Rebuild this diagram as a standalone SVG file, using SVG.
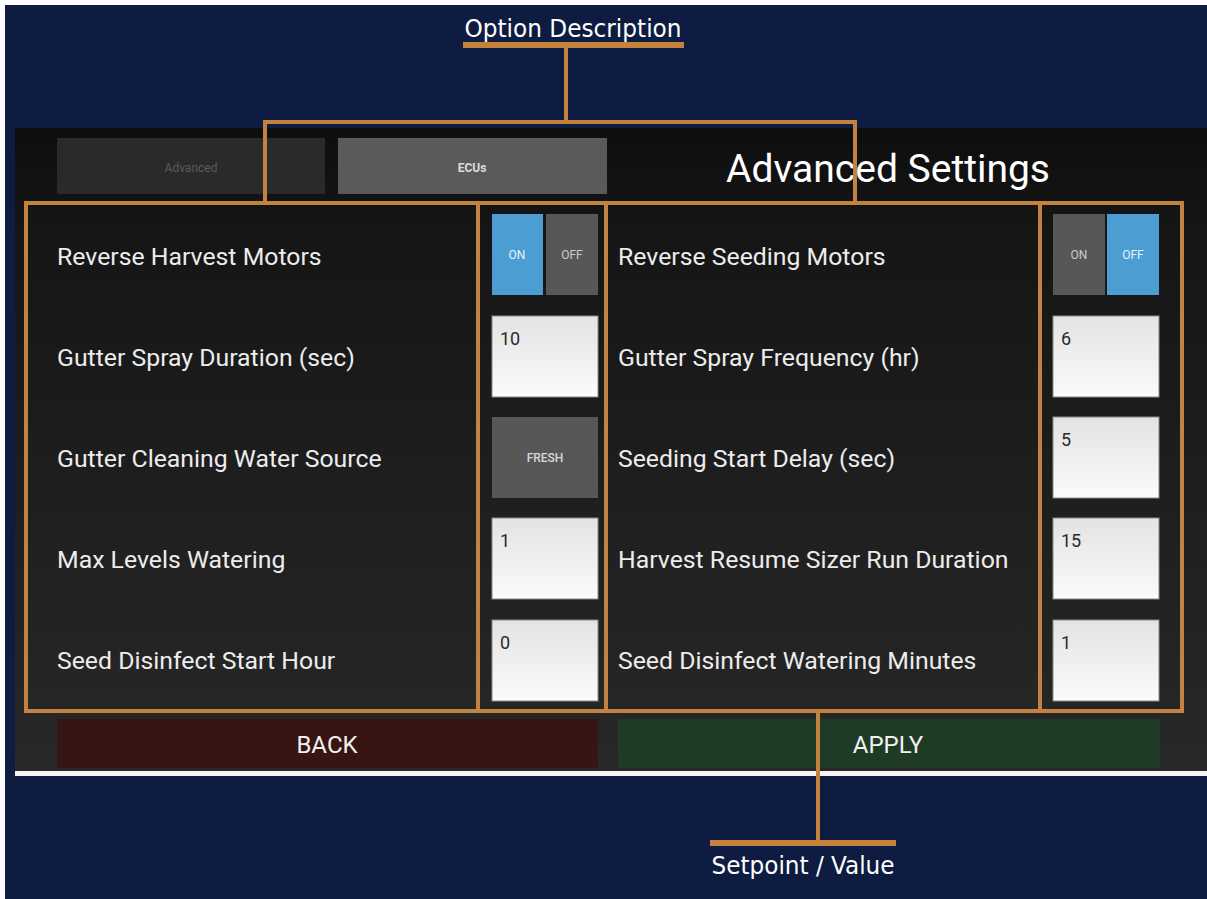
<svg xmlns="http://www.w3.org/2000/svg" width="1207" height="899" viewBox="0 0 1207 899">
<defs>
<linearGradient id="panelG" x1="0" y1="0" x2="0" y2="1">
<stop offset="0" stop-color="#0e0e0e"/>
<stop offset="0.15" stop-color="#151515"/>
<stop offset="1" stop-color="#282828"/>
</linearGradient>
<linearGradient id="fieldG" x1="0" y1="0" x2="0" y2="1">
<stop offset="0" stop-color="#e3e3e3"/>
<stop offset="1" stop-color="#fbfbfb"/>
</linearGradient>
<style>
.lbl{font-family:Roboto,"Liberation Sans",sans-serif;font-size:24.8px;fill:#ececec}
.val{font-family:Roboto,"Liberation Sans",sans-serif;font-size:18px;fill:#2a2a2a}
.tg{font-family:Roboto,"Liberation Sans",sans-serif;font-size:12px;text-anchor:middle}
.field{fill:url(#fieldG);stroke:#8a8a8a;stroke-width:1}
.on{fill:#4b9dd2}
.off{fill:#575757}
.ann{font-family:"DejaVu Sans Condensed","DejaVu Sans",sans-serif;font-size:24px;fill:#ffffff;text-anchor:middle}
.or{stroke:#c4823f;stroke-width:4;fill:none}
.bar{fill:#c4823f}
.btn{font-family:Roboto,"Liberation Sans",sans-serif;font-size:24px;fill:#f0f0f0;text-anchor:middle}
</style>
</defs>
<rect x="0" y="0" width="1207" height="899" fill="#ffffff"/>
<rect x="5" y="5" width="1202" height="894" fill="#0d1c40"/>

<g id="screen">
<rect x="15" y="128" width="1192" height="644" fill="url(#panelG)"/>
<rect x="15" y="771" width="1192" height="5" fill="#f4f4f4"/>
<g id="tab-advanced"><rect x="57" y="138" width="268" height="56" fill="#2a2a2a"/><text x="191" y="172" class="tg" fill="#5a5a5a" font-size="13">Advanced</text></g>
<g id="tab-ecus"><rect x="338" y="138" width="269" height="56" fill="#5a5a5a"/><text x="472" y="172" class="tg" fill="#dddddd" font-weight="bold" font-size="13">ECUs</text></g>
<text x="888" y="182" font-family="Roboto,'Liberation Sans',sans-serif" font-size="39" fill="#ffffff" text-anchor="middle">Advanced Settings</text>

<g id="row1l"><text x="57" y="265" class="lbl">Reverse Harvest Motors</text>
<rect x="492" y="214" width="51" height="81" class="on"/><text x="517" y="259" class="tg" fill="#e8f4fb">ON</text>
<rect x="546" y="214" width="52" height="81" class="off"/><text x="572" y="259" class="tg" fill="#cccccc">OFF</text></g>
<g id="row2l"><text x="57" y="366" class="lbl">Gutter Spray Duration (sec)</text>
<rect x="492" y="316" width="106" height="81" class="field"/><text x="500" y="345" class="val">10</text></g>
<g id="row3l"><text x="57" y="467" class="lbl">Gutter Cleaning Water Source</text>
<rect x="492" y="417" width="106" height="81" class="off"/><text x="545" y="462" class="tg" fill="#d8d8d8" font-weight="500">FRESH</text></g>
<g id="row4l"><text x="57" y="568" class="lbl">Max Levels Watering</text>
<rect x="492" y="518" width="106" height="81" class="field"/><text x="500" y="547" class="val">1</text></g>
<g id="row5l"><text x="57" y="669" class="lbl">Seed Disinfect Start Hour</text>
<rect x="492" y="620" width="106" height="81" class="field"/><text x="500" y="649" class="val">0</text></g>

<g id="row1r"><text x="618" y="265" class="lbl">Reverse Seeding Motors</text>
<rect x="1053" y="214" width="52" height="81" class="off"/><text x="1079" y="259" class="tg" fill="#cccccc">ON</text>
<rect x="1107" y="214" width="52" height="81" class="on"/><text x="1133" y="259" class="tg" fill="#e8f4fb">OFF</text></g>
<g id="row2r"><text x="618" y="366" class="lbl">Gutter Spray Frequency (hr)</text>
<rect x="1053" y="316" width="106" height="81" class="field"/><text x="1061" y="345" class="val">6</text></g>
<g id="row3r"><text x="618" y="467" class="lbl">Seeding Start Delay (sec)</text>
<rect x="1053" y="417" width="106" height="81" class="field"/><text x="1061" y="446" class="val">5</text></g>
<g id="row4r"><text x="618" y="568" class="lbl">Harvest Resume Sizer Run Duration</text>
<rect x="1053" y="518" width="106" height="81" class="field"/><text x="1061" y="547" class="val">15</text></g>
<g id="row5r"><text x="618" y="669" class="lbl">Seed Disinfect Watering Minutes</text>
<rect x="1053" y="620" width="106" height="81" class="field"/><text x="1061" y="649" class="val">1</text></g>

<g id="btn-back"><rect x="57" y="719" width="541" height="49" fill="#361513"/><text x="327" y="753" class="btn">BACK</text></g>
<g id="btn-apply"><rect x="618" y="719" width="542" height="49" fill="#1f3b26"/><text x="888" y="753" class="btn">APPLY</text></g>
</g>

<g id="connectors">
<rect x="26" y="203" width="1156" height="508" class="or"/>
<line x1="478" y1="203" x2="478" y2="711" class="or"/>
<line x1="606" y1="203" x2="606" y2="711" class="or"/>
<line x1="1040" y1="203" x2="1040" y2="711" class="or"/>
<polyline points="265,203 265,122 855,122 855,203" class="or"/>
<line x1="566" y1="45" x2="566" y2="122" class="or"/>
<rect x="463" y="42" width="221" height="6" class="bar"/>
<line x1="818" y1="711" x2="818" y2="843" class="or"/>
<rect x="710" y="840" width="186" height="6" class="bar"/>
</g>

<g id="label-option"><text x="573" y="37" class="ann" textLength="217" lengthAdjust="spacingAndGlyphs">Option Description</text></g>
<g id="label-setpoint"><text x="803" y="874" class="ann" textLength="183" lengthAdjust="spacingAndGlyphs">Setpoint / Value</text></g>
</svg>
